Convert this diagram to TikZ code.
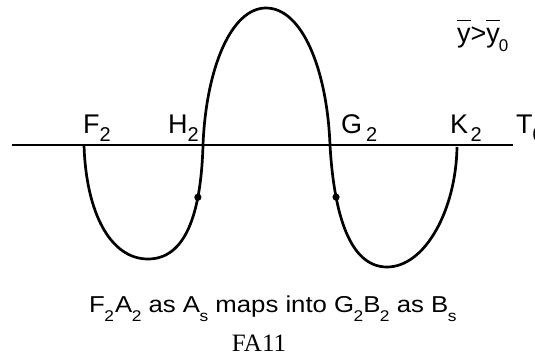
\documentclass[tikz,border=0pt]{standalone}
\usepackage{fontspec}
\setmainfont{Liberation Sans}
\newfontfamily\timesf{Liberation Serif}
% label subscript (on-line labels)
\newcommand\lsub[1]{\raisebox{-8pt}{\fontsize{20}{20}\selectfont #1}}
% caption subscript
\newcommand\csub[1]{\kern-0.5pt\raisebox{-9pt}{\fontsize{15.5}{15.5}\selectfont #1}}
\newcommand\ybar{\setbox0\hbox{y}\rlap{\raisebox{22pt}{\rule{\wd0}{1.2pt}}}y}
\begin{document}
\begin{tikzpicture}[x=1pt,y=-1pt,
  lab/.style={anchor=base west, inner sep=0pt, font=\fontsize{27}{27}\selectfont},
  axisline/.style={line width=1.4pt},
  curveline/.style={line width=2.7pt, line join=round},
  ptdot/.style={circle, fill=black, inner sep=0pt, minimum size=7.2pt}]
\useasboundingbox (0,0) rectangle (535,358);
\clip (0,0) rectangle (535,358);
\fill[white] (0,0) rectangle (535,358);
% axis
\coordinate (L) at (12,145);
\coordinate (R) at (513,145);
\draw[axisline] (L) -- (R);
% curve points
\coordinate (F) at (84,145);
\coordinate (B1) at (148,259);
\coordinate (H) at (203,145);
\coordinate (Top) at (266,8);
\coordinate (G) at (330,145);
\coordinate (B2) at (387,267);
\coordinate (K) at (457,147);
\draw[curveline] (F) .. controls (86,212) and (110,259) .. (B1)
  .. controls (185,259) and (201,215) .. node[ptdot, pos=0.72] (D1) {} (H)
  .. controls (206,69) and (231,8) .. (Top)
  .. controls (302,8) and (327,69) .. (G)
  .. controls (334,215) and (350,267) .. node[ptdot, pos=0.27] (D2) {} (B2)
  .. controls (425,267) and (456,210) .. (K);
% labels
\node[lab] (f2) at (83,134) {F\lsub{2}};
\node[lab] (h2) at (168,134) {H\lsub{2}};
\node[lab] (g2) at (341,134) {G\kern4pt\lsub{2}};
\node[lab] (k2) at (450,134) {K\kern2.5pt\lsub{2}};
\node[lab] (t0) at (516,134) {T\lsub{0}};
\node[lab] (ineq) at (457,43) {\ybar>\ybar\kern-1pt\raisebox{-9pt}{\fontsize{17}{17}\selectfont 0}};
\node[lab, font=\fontsize{23}{23}\selectfont] (cap) at (89,312)
  {\scalebox{1.12}[1]{F\csub{2}\kern1pt A\csub{2} as A\csub{s} maps into G\csub{2}B\csub{2} as B\csub{s}}};
\node[anchor=base, inner sep=0pt, font=\timesf\fontsize{25}{25}\selectfont] (fa) at (259,351) {FA11};
\end{tikzpicture}
\end{document}
